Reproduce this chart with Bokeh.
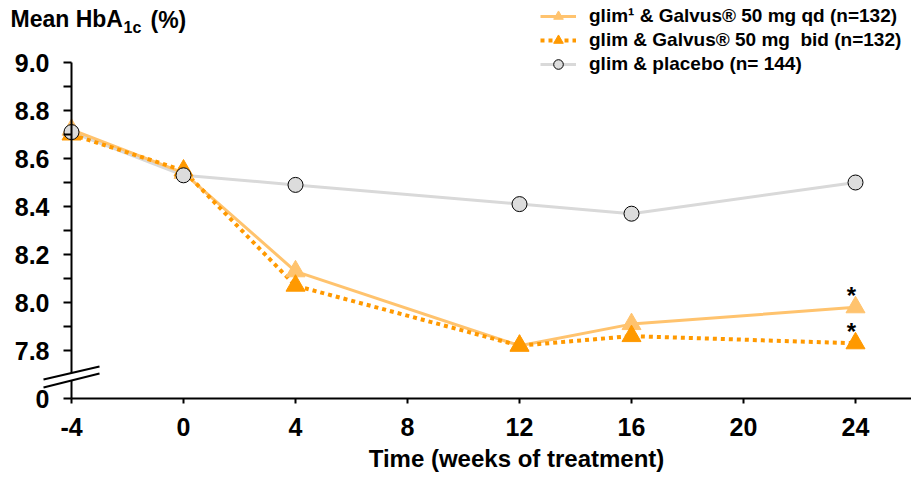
from bokeh.plotting import figure
from bokeh.models import Range1d, FixedTicker, Label, Arrow, PolyAnnotation, Legend, LegendItem
from bokeh.core.properties import value
from bokeh.embed import file_html
from bokeh.resources import INLINE

# ---- data ----
weeks = [-4, 0, 4, 12, 16, 24]
qd = [8.72, 8.54, 8.13, 7.82, 7.91, 7.98]
bid = [8.70, 8.55, 8.07, 7.82, 7.86, 7.83]
placebo = [8.71, 8.53, 8.49, 8.41, 8.37, 8.50]
series_labels = [
    "glim¹ & Galvus® 50 mg qd (n=132)",
    "glim & Galvus® 50 mg  bid (n=132)",
    "glim & placebo (n= 144)",
]
x_ticks = [-4, 0, 4, 8, 12, 16, 20, 24]
x_tick_labels = ["-4", "0", "4", "8", "12", "16", "20", "24"]
y_ticks = [7.6, 7.8, 8.0, 8.2, 8.4, 8.6, 8.8, 9.0]
y_tick_labels = ["0", "7.8", "8.0", "8.2", "8.4", "8.6", "8.8", "9.0"]
y_minor = [7.9, 8.1, 8.3, 8.5, 8.7, 8.9]
y_title = ["Mean HbA", "1c", "(%)"]
x_title = "Time (weeks of treatment)"

FONT = "Liberation Sans"
C_QD = "#FFC36E"
C_BID = "#FF9900"
C_PL_LINE = "#D9D9D9"
C_PL_FILL = "#DCDCDC"

W, H = 911, 477
AX_X, AX_Y = 71, 398          # pixel position of the axes' origin
PX_PER_WEEK = 28.0
PX_PER_UNIT = 240.0


def px_to_x(px):
    return -4 + (px - AX_X) / PX_PER_WEEK


def py_to_y(py):
    return 7.6 + (AX_Y - py) / PX_PER_UNIT


p = figure(width=W, height=H, output_backend="svg", toolbar_location=None,
           title=None,
           x_range=Range1d(px_to_x(0), px_to_x(W)),
           y_range=Range1d(py_to_y(H), py_to_y(0)),
           min_border_left=0, min_border_right=0, min_border_top=0,
           min_border_bottom=0)
p.outline_line_color = None
p.xgrid.visible = False
p.ygrid.visible = False
p.background_fill_color = "white"
p.border_fill_color = "white"

# axes
for ax in (p.xaxis[0], p.yaxis[0]):
    ax.axis_line_width = 2
    ax.axis_line_color = "black"
    ax.major_tick_line_width = 2
    ax.major_tick_line_color = "black"
    ax.minor_tick_line_width = 2
    ax.minor_tick_line_color = "black"
    ax.major_tick_in = 0
    ax.minor_tick_in = 0
    ax.major_label_text_font = FONT
    ax.major_label_text_font_style = "bold"
    ax.major_label_text_font_size = "25px"
    ax.major_label_text_color = "black"

xa = p.xaxis[0]
xa.fixed_location = y_ticks[0]
xa.bounds = (x_ticks[0], px_to_x(W))
xa.ticker = FixedTicker(ticks=x_ticks, minor_ticks=[])
xa.major_label_overrides = dict(zip(x_ticks, x_tick_labels))
xa.major_tick_out = 5
xa.major_label_standoff = 14

ya = p.yaxis[0]
ya.fixed_location = x_ticks[0]
ya.bounds = (y_ticks[0], y_ticks[-1])
ya.ticker = FixedTicker(ticks=y_ticks, minor_ticks=y_minor)
ya.major_label_overrides = dict(zip(y_ticks, y_tick_labels))
ya.major_tick_out = 8
ya.minor_tick_out = 8
ya.major_label_standoff = 14

# series
r_pl_line = p.line(weeks, placebo, line_color=C_PL_LINE, line_width=3)
r_qd_line = p.line(weeks, qd, line_color=C_QD, line_width=3)
r_bid_line = p.line(weeks, bid, line_color=C_BID, line_width=4, line_dash="4 4")
r_qd_pts = p.scatter(weeks, qd, marker="triangle", size=19, fill_color=C_QD, line_color=C_QD)
r_bid_pts = p.scatter(weeks, bid, marker="triangle", size=19, fill_color=C_BID, line_color=C_BID)
r_pl_pts = p.scatter(weeks, placebo, marker="circle", size=15, fill_color=C_PL_FILL,
                     line_color="black", line_width=1)

# significance asterisks
p.text(x=[weeks[-1], weeks[-1]], y=[qd[-1], bid[-1]], text=["*", "*"],
       x_offset=-4, y_offset=-12, text_align="center", text_baseline="alphabetic",
       text_font=value(FONT), text_font_style="bold", text_font_size="24px",
       text_color="black")

# legend
legend = Legend(items=[
    LegendItem(label=series_labels[0], renderers=[r_qd_line, r_qd_pts]),
    LegendItem(label=series_labels[1], renderers=[r_bid_line, r_bid_pts]),
    LegendItem(label=series_labels[2], renderers=[r_pl_line, r_pl_pts]),
], location=(540, H - 76), orientation="vertical")
legend.padding = 0
legend.margin = 0
legend.spacing = 0
legend.label_height = 24
legend.glyph_height = 24
legend.glyph_width = 36
legend.label_standoff = 13
legend.label_text_font = FONT
legend.label_text_font_style = "bold"
legend.label_text_font_size = "19px"
legend.label_text_color = "black"
legend.border_line_color = None
legend.background_fill_alpha = 0
p.add_layout(legend)

# y-axis title with subscript
p.add_layout(Label(x=px_to_x(10), y=py_to_y(18), text=y_title[0], text_font=FONT,
                   text_font_style="bold", text_font_size="23px", text_baseline="alphabetic",
                   text_color="black"))
p.add_layout(Label(x=px_to_x(123), y=py_to_y(27), text=y_title[1], text_font=FONT,
                   text_font_style="bold", text_font_size="16px", text_baseline="alphabetic",
                   text_color="black"))
p.add_layout(Label(x=px_to_x(150), y=py_to_y(19), text=y_title[2], text_font=FONT,
                   text_font_style="bold", text_font_size="23px", text_baseline="alphabetic",
                   text_color="black"))

# x-axis title
p.add_layout(Label(x=px_to_x(516), y=py_to_y(458), text=x_title, text_font=FONT,
                   text_font_style="bold", text_font_size="24px", text_baseline="alphabetic",
                   text_align="center", text_color="black"))

# axis break marks
bx0, bx1 = px_to_x(43), px_to_x(99)
p.add_layout(PolyAnnotation(xs=[bx0, bx1, bx1, bx0],
                            ys=[py_to_y(379), py_to_y(366), py_to_y(373), py_to_y(387)],
                            fill_color="white", fill_alpha=1, line_color=None))
p.add_layout(Arrow(end=None, start=None, x_start=bx0, y_start=py_to_y(379),
                   x_end=bx1, y_end=py_to_y(366), line_width=2, line_color="black"))
p.add_layout(Arrow(end=None, start=None, x_start=bx0, y_start=py_to_y(387),
                   x_end=bx1, y_end=py_to_y(373), line_width=2, line_color="black"))

open("out.html", "w").write(file_html(p, INLINE))
